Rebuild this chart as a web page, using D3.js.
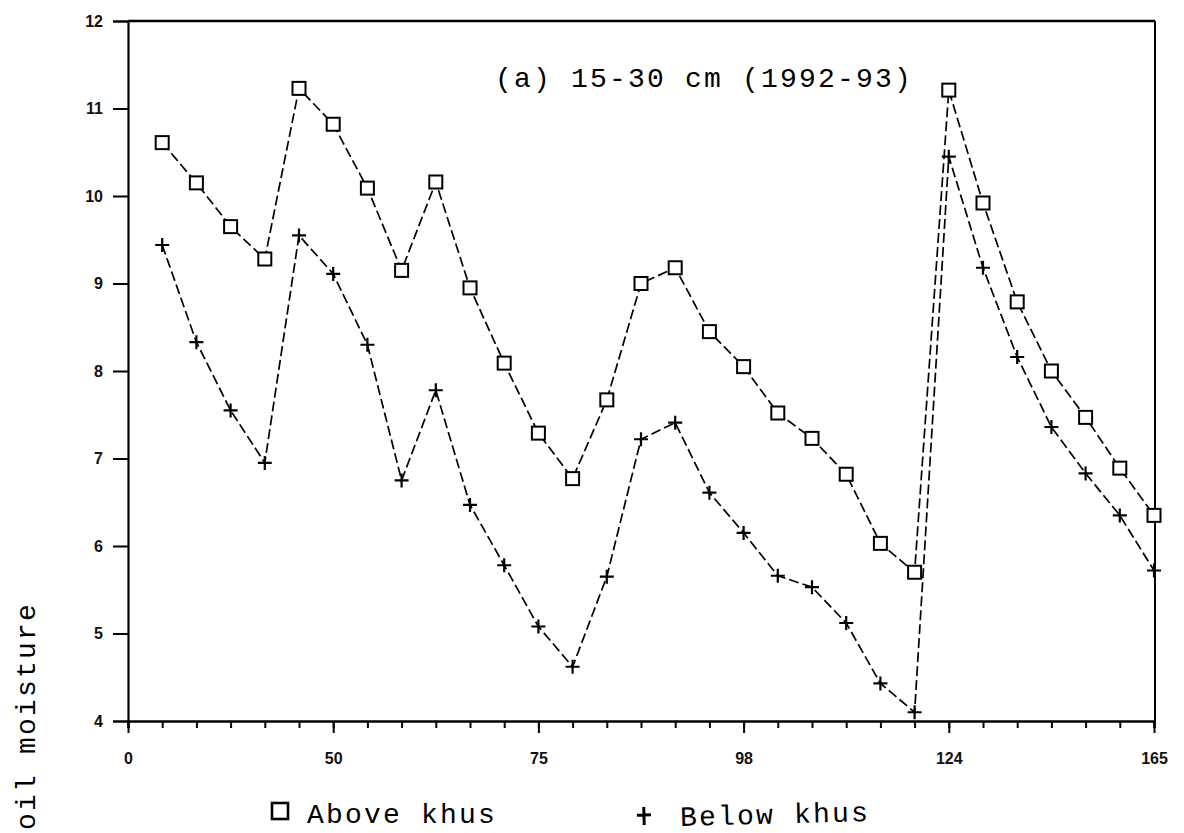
<!DOCTYPE html>
<html>
<head>
<meta charset="utf-8">
<script src="https://cdn.jsdelivr.net/npm/d3@7"></script>
<style>
  html, body { margin: 0; padding: 0; background: #fff; }
  svg { display: block; }
</style>
</head>
<body>
<svg id="chart" width="1184" height="833"></svg>
<script>
// Sampling positions along the season (one per observation)
const positions = d3.range(1, 31);

// Soil moisture, 15-30 cm depth, 1992-93
const aboveKhus = [10.61, 10.15, 9.65, 9.28, 11.23, 10.82, 10.09, 9.15, 10.16, 8.95,
                   8.09, 7.29, 6.77, 7.67, 9.00, 9.18, 8.45, 8.05, 7.52, 7.23,
                   6.82, 6.03, 5.70, 11.21, 9.92, 8.79, 8.00, 7.47, 6.89, 6.35];
const belowKhus = [9.44, 8.33, 7.55, 6.95, 9.55, 9.11, 8.30, 6.75, 7.78, 6.47,
                   5.78, 5.08, 4.62, 5.65, 7.22, 7.41, 6.61, 6.15, 5.66, 5.53,
                   5.12, 4.43, 4.10, 10.45, 9.18, 8.16, 7.36, 6.83, 6.35, 5.72];

// Axis ticks
const xMajorTicks = [0, 6, 12, 18, 24, 30];
const xTickLabels = ["0", "50", "75", "98", "124", "165"];
const yTicks = [4, 5, 6, 7, 8, 9, 10, 11, 12];

const svg = d3.select("#chart");
const plotLeft = 128, plotRight = 1155, plotTop = 21, plotBottom = 721;

const x = d3.scaleLinear().domain([0, 30]).range([plotLeft, 1154]);
const y = d3.scaleLinear().domain([4, 12]).range([plotBottom, plotTop]);

const mono = "'Courier New', 'Liberation Mono', 'DejaVu Sans Mono', monospace";
const tickFont = "Arial, 'Liberation Sans', sans-serif";

// Frame: top and right edges
svg.append("line").attr("x1", plotLeft).attr("x2", plotRight).attr("y1", plotTop).attr("y2", plotTop)
  .attr("stroke", "#000").attr("stroke-width", 2.4);
svg.append("line").attr("x1", plotRight).attr("x2", plotRight).attr("y1", plotTop).attr("y2", plotBottom)
  .attr("stroke", "#000").attr("stroke-width", 2);

// Y axis
const yAxis = svg.append("g")
  .attr("transform", `translate(${plotLeft},0)`)
  .call(d3.axisLeft(y).tickValues(yTicks).tickSize(15).tickPadding(10).tickFormat(d3.format("d")));
yAxis.select(".domain").attr("stroke-width", 2.2);
yAxis.selectAll(".tick line").attr("stroke-width", 2);
yAxis.selectAll("text").attr("font-family", tickFont).attr("font-weight", "bold")
  .attr("font-size", 16).attr("fill", "#111");

// X axis: minor ticks at every observation, labelled majors every sixth
const xMinor = svg.append("g")
  .attr("transform", `translate(0,${plotBottom})`)
  .call(d3.axisBottom(x).tickValues(d3.range(0, 31)).tickSize(7).tickFormat(""));
xMinor.select(".domain").attr("stroke-width", 2.4);
xMinor.selectAll(".tick line").attr("stroke-width", 2);

const xMajor = svg.append("g")
  .attr("transform", `translate(0,${plotBottom})`)
  .call(d3.axisBottom(x).tickValues(xMajorTicks).tickSize(12).tickPadding(20)
    .tickFormat((d, i) => xTickLabels[i]));
xMajor.select(".domain").remove();
xMajor.selectAll(".tick line").attr("stroke-width", 2);
xMajor.selectAll("text").attr("font-family", tickFont).attr("font-weight", "bold")
  .attr("font-size", 16).attr("fill", "#111");

// Dashed series lines
const line = d3.line().x((d, i) => x(positions[i])).y(d => y(d));
[aboveKhus, belowKhus].forEach(series => {
  svg.append("path").datum(series)
    .attr("d", line)
    .attr("fill", "none")
    .attr("stroke", "#000")
    .attr("stroke-width", 1.7)
    .attr("stroke-dasharray", "10,4");
});

// Square markers (Above khus)
const sq = 13;
svg.append("g").selectAll("rect").data(aboveKhus).join("rect")
  .attr("x", (d, i) => x(positions[i]) - sq / 2)
  .attr("y", d => y(d) - sq / 2)
  .attr("width", sq).attr("height", sq)
  .attr("fill", "#fff").attr("stroke", "#000").attr("stroke-width", 2);

// Plus markers (Below khus)
const pl = 7;
svg.append("g").selectAll("path").data(belowKhus).join("path")
  .attr("d", (d, i) => {
    const cx = x(positions[i]), cy = y(d);
    return `M${cx - pl},${cy}H${cx + pl}M${cx},${cy - pl}V${cy + pl}`;
  })
  .attr("stroke", "#000").attr("stroke-width", 2.2).attr("fill", "none");

// Panel title
svg.append("text")
  .attr("x", 495).attr("y", 87)
  .attr("font-family", mono).attr("font-size", 28)
  .attr("letter-spacing", 2.2)
  .text("(a) 15-30 cm (1992-93)");

// Y axis title
svg.append("text")
  .attr("transform", "translate(35,602) rotate(-90)")
  .attr("text-anchor", "end")
  .attr("font-family", mono).attr("font-size", 28)
  .attr("letter-spacing", 2.2)
  .text("oil moisture");

// Legend
const legend = svg.append("g");
legend.append("rect").attr("x", 272).attr("y", 803).attr("width", 16).attr("height", 16)
  .attr("fill", "#fff").attr("stroke", "#000").attr("stroke-width", 2.6);
legend.append("text").attr("x", 307).attr("y", 823)
  .attr("font-family", mono).attr("font-size", 28).attr("letter-spacing", 2.2)
  .text("Above khus");

const legendB = svg.append("g").attr("transform", "rotate(-1.5,760,815)");
legendB.append("path")
  .attr("d", "M637,812H651M644,804V822")
  .attr("stroke", "#000").attr("stroke-width", 3).attr("fill", "none");
legendB.append("text").attr("x", 680).attr("y", 824)
  .attr("font-family", mono).attr("font-size", 28).attr("letter-spacing", 2.2)
  .text("Below khus");
</script>
</body>
</html>
